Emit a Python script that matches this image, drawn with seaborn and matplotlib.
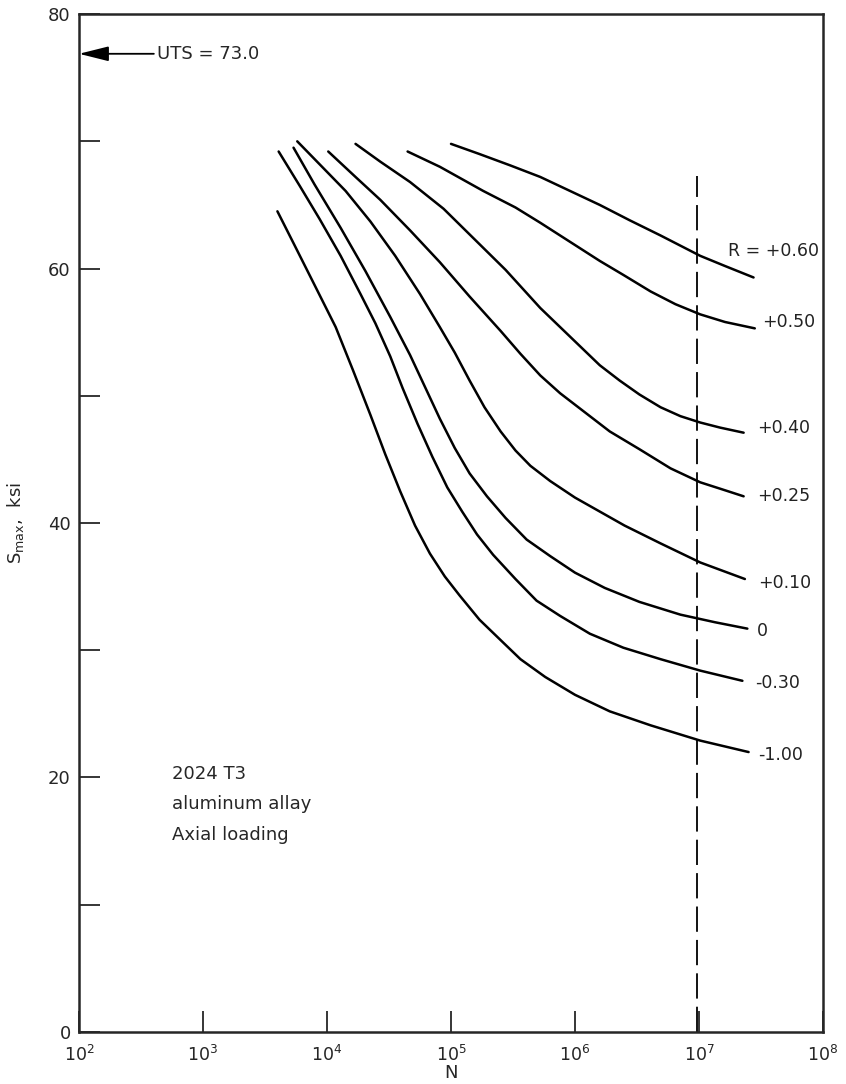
import numpy as np
import pandas as pd
import seaborn as sns
import matplotlib.pyplot as plt
from matplotlib.ticker import NullLocator, FixedLocator

# S-N curves for 2024-T3 (log10 N, S_max in ksi)
r_labels = ["-1.00", "-0.30", "0", "+0.10", "+0.25", "+0.40", "+0.50", "+0.60"]

logn_m100 = [3.60, 3.74, 3.90, 4.07, 4.21, 4.35, 4.47, 4.59, 4.71, 4.83, 4.95, 5.07,
             5.23, 5.40, 5.56, 5.76, 6.00, 6.28, 6.61, 7.01, 7.40]
s_m100 = [64.5, 61.8, 58.7, 55.4, 52.0, 48.5, 45.4, 42.5, 39.8, 37.6, 35.8, 34.3,
          32.4, 30.8, 29.3, 27.9, 26.5, 25.2, 24.1, 22.9, 22.0]

logn_m030 = [3.61, 3.78, 3.94, 4.11, 4.27, 4.39, 4.51, 4.61, 4.73, 4.85, 4.97, 5.09,
             5.21, 5.34, 5.52, 5.69, 5.88, 6.12, 6.39, 6.69, 7.01, 7.35]
s_m030 = [69.2, 66.5, 63.9, 61.0, 58.0, 55.7, 53.1, 50.6, 47.8, 45.2, 42.8, 40.9,
          39.1, 37.5, 35.6, 33.9, 32.7, 31.3, 30.2, 29.3, 28.4, 27.6]

logn_0 = [3.73, 3.90, 4.11, 4.31, 4.51, 4.67, 4.79, 4.91, 5.03, 5.15, 5.29, 5.44,
          5.61, 5.80, 6.00, 6.24, 6.52, 6.85, 7.13, 7.39]
s_0 = [69.5, 66.6, 63.2, 59.8, 56.2, 53.2, 50.7, 48.2, 45.9, 43.9, 42.1, 40.4,
       38.7, 37.4, 36.1, 34.9, 33.8, 32.8, 32.2, 31.7]

logn_p010 = [3.76, 3.94, 4.15, 4.35, 4.55, 4.75, 4.91, 5.03, 5.15, 5.27, 5.40, 5.52,
             5.64, 5.80, 6.00, 6.20, 6.40, 6.69, 7.01, 7.37]
s_p010 = [70.0, 68.2, 66.1, 63.7, 61.0, 58.0, 55.4, 53.4, 51.2, 49.1, 47.2, 45.7,
          44.5, 43.3, 42.0, 40.9, 39.8, 38.4, 36.9, 35.6]

logn_p025 = [4.01, 4.23, 4.43, 4.67, 4.91, 5.15, 5.40, 5.56, 5.72, 5.88, 6.08, 6.28,
             6.52, 6.77, 7.01, 7.17, 7.36]
s_p025 = [69.2, 67.2, 65.4, 63.0, 60.5, 57.8, 55.1, 53.3, 51.6, 50.2, 48.7, 47.2,
          45.8, 44.3, 43.2, 42.7, 42.1]

logn_p040 = [4.23, 4.43, 4.67, 4.94, 5.19, 5.44, 5.72, 5.88, 6.04, 6.20, 6.36, 6.52,
             6.69, 6.85, 7.01, 7.17, 7.36]
s_p040 = [69.8, 68.4, 66.8, 64.7, 62.3, 59.9, 56.9, 55.4, 53.9, 52.4, 51.2, 50.1,
          49.1, 48.4, 47.9, 47.5, 47.1]

logn_p050 = [4.65, 4.91, 5.26, 5.52, 5.72, 5.96, 6.20, 6.39, 6.61, 6.81, 7.01, 7.21, 7.45]
s_p050 = [69.2, 68.0, 66.1, 64.8, 63.6, 62.1, 60.6, 59.5, 58.2, 57.2, 56.4, 55.8, 55.3]

logn_p060 = [5.00, 5.23, 5.48, 5.72, 5.96, 6.20, 6.44, 6.69, 7.01, 7.21, 7.44]
s_p060 = [69.8, 69.0, 68.1, 67.2, 66.1, 65.0, 63.8, 62.6, 61.0, 60.2, 59.3]

all_logn = [logn_m100, logn_m030, logn_0, logn_p010, logn_p025, logn_p040, logn_p050, logn_p060]
all_s = [s_m100, s_m030, s_0, s_p010, s_p025, s_p040, s_p050, s_p060]

# curve labels at the right end (log10 N of left edge, S)
label_text = ["-1.00", "-0.30", "0", "+0.10", "+0.25", "+0.40", "+0.50", "R = +0.60"]
label_logn = [7.48, 7.45, 7.47, 7.48, 7.47, 7.47, 7.51, 7.23]
label_s = [21.8, 27.4, 31.5, 35.3, 42.1, 47.5, 55.8, 61.4]

endurance_logn = 6.98   # dashed line near 10^7
endurance_top = 67.3
uts = 73.0

frames = []
for r, ln, s in zip(r_labels, all_logn, all_s):
    frames.append(pd.DataFrame({"N": 10 ** np.array(ln), "S": s, "R": r}))
df = pd.concat(frames, ignore_index=True)

sns.set_style("ticks")
plt.rcParams['font.family'] = ['DejaVu Sans']
plt.rcParams['mathtext.fontset'] = 'dejavusans'

fig = plt.figure(figsize=(8.46, 10.84), dpi=100)
ax = fig.add_axes([0.0934, 0.048, 0.8794, 0.939])

sns.lineplot(data=df, x="N", y="S", hue="R", palette={r: "black" for r in r_labels},
             sort=False, estimator=None, legend=False, linewidth=1.8, ax=ax)

ax.plot([10 ** endurance_logn] * 2, [0, endurance_top], color="black",
        linewidth=1.3, linestyle=(0, (14, 4.5)))

for t, ln, s in zip(label_text, label_logn, label_s):
    ax.text(10 ** ln, s, t, fontsize=12.5, ha="left", va="center", color="#222222")

ax.annotate(f"UTS = {uts:.1f}", xy=(0.0, 0.961), xycoords="axes fraction",
            xytext=(0.105, 0.961), textcoords="axes fraction", fontsize=13,
            va="center", ha="left",
            arrowprops=dict(arrowstyle="-|>,head_length=1.4,head_width=0.35",
                            color="black", lw=1.3, shrinkA=0, shrinkB=0))

ax.text(10 ** 2.75, 20.3, "2024 T3", fontsize=13, ha="left", va="center")
ax.text(10 ** 2.75, 17.9, "aluminum allay", fontsize=13, ha="left", va="center")
ax.text(10 ** 2.75, 15.5, "Axial loading", fontsize=13, ha="left", va="center")

ax.set_xscale("log")
ax.set_xlim(1e2, 1e8)
ax.set_ylim(0, 80)
ax.xaxis.set_major_locator(FixedLocator([10.0 ** k for k in range(2, 9)]))
ax.xaxis.set_minor_locator(NullLocator())
ax.set_yticks(range(0, 81, 10))
ax.set_yticklabels([str(v) if v % 20 == 0 else "" for v in range(0, 81, 10)])

ax.tick_params(direction="in", length=15, width=1.3, labelsize=13)
ax.tick_params(axis="y", pad=6)
ax.tick_params(axis="x", pad=9, labelsize=12.5)
for sp in ax.spines.values():
    sp.set_linewidth(1.8)
    sp.set_visible(True)

ax.set_xlabel("N", fontsize=13)
ax.xaxis.set_label_coords(0.5, -0.031)
ax.set_ylabel(r"S$_{\mathregular{max}}$,  ksi", fontsize=13, labelpad=16)

fig.savefig("out.png", dpi=100)
